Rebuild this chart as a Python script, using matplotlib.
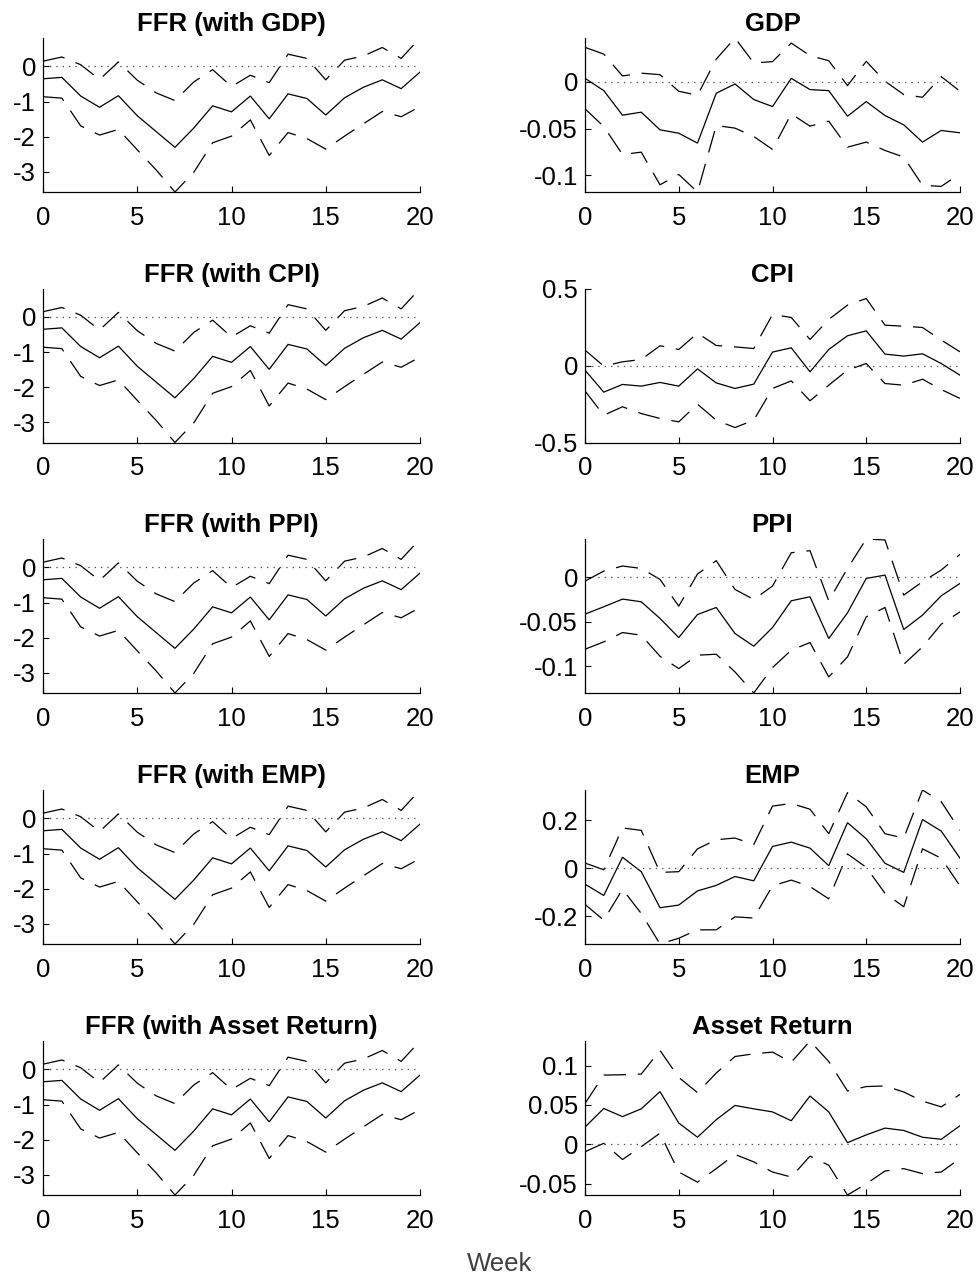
import numpy as np
import matplotlib
matplotlib.use("Agg")
import matplotlib.pyplot as plt
from matplotlib.ticker import FixedLocator, FuncFormatter

plt.rcParams['font.family'] = ['Liberation Sans', 'DejaVu Sans']
plt.rcParams['axes.unicode_minus'] = False
plt.rcParams['lines.scale_dashes'] = False

weeks = np.arange(21)

# Federal funds rate response (same identification in every bivariate system)
ffr_mid = [-0.35, -0.31, -0.84, -1.16, -0.83, -1.40, -1.85, -2.30, -1.75, -1.12, -1.29,
           -0.84, -1.49, -0.78, -0.91, -1.38, -0.89, -0.59, -0.38, -0.63, -0.16]
ffr_up = [0.15, 0.27, 0.05, -0.37, 0.13, -0.39, -0.75, -0.97, -0.44, -0.09, -0.57,
          -0.25, -0.46, 0.35, 0.23, -0.38, 0.18, 0.30, 0.54, 0.23, 0.81]
ffr_lo = [-0.86, -0.90, -1.69, -1.95, -1.79, -2.37, -2.94, -3.57, -3.01, -2.17, -1.98,
          -1.52, -2.53, -1.88, -2.05, -2.35, -1.98, -1.63, -1.28, -1.43, -1.14]

gdp_mid = [0.0035, -0.0096, -0.0358, -0.0326, -0.0514, -0.055, -0.0656, -0.0124, -0.0025, -0.0191, -0.0266,
           0.0035, -0.0085, -0.0096, -0.0369, -0.0213, -0.0362, -0.0461, -0.0645, -0.0521, -0.0546]
gdp_up = [0.0365, 0.0294, 0.006, 0.009, 0.0074, -0.0103, -0.0145, 0.024, 0.0465, 0.0199, 0.0213,
          0.0411, 0.0277, 0.0223, -0.0043, 0.0216, 0.0004, -0.0138, -0.0167, 0.0053, -0.0103]
gdp_lo = [-0.029, -0.0479, -0.0777, -0.0752, -0.110, -0.099, -0.1177, -0.0468, -0.0496, -0.0585, -0.0723,
          -0.0344, -0.0475, -0.0422, -0.0699, -0.0645, -0.0734, -0.0805, -0.1106, -0.1117, -0.0982]

cpi_mid = [-0.03, -0.173, -0.123, -0.134, -0.11, -0.134, -0.022, -0.113, -0.149, -0.121, 0.087,
           0.115, -0.041, 0.104, 0.193, 0.225, 0.074, 0.061, 0.076, 0.013, -0.063]
cpi_up = [0.10, -0.004, 0.024, 0.039, 0.128, 0.104, 0.21, 0.13, 0.121, 0.11, 0.331,
          0.312, 0.169, 0.299, 0.392, 0.435, 0.262, 0.255, 0.247, 0.165, 0.089]
cpi_lo = [-0.165, -0.323, -0.268, -0.312, -0.344, -0.366, -0.251, -0.355, -0.403, -0.355, -0.149,
          -0.10, -0.229, -0.128, -0.03, 0.013, -0.117, -0.128, -0.089, -0.156, -0.214]

ppi_mid = [-0.0416, -0.0333, -0.0247, -0.0277, -0.0464, -0.0678, -0.042, -0.0341, -0.0633, -0.0775, -0.0566,
           -0.0266, -0.0221, -0.0689, -0.0401, -0.0015, 0.0022, -0.0588, -0.0427, -0.021, -0.0071]
ppi_up = [-0.0045, 0.0067, 0.0124, 0.0097, -0.0026, -0.0326, 0.0034, 0.0184, -0.0139, -0.0251, -0.0101,
          0.0273, 0.0296, -0.0266, 0.0097, 0.0427, 0.0416, -0.0202, -0.0052, 0.0079, 0.0255]
ppi_lo = [-0.0809, -0.0727, -0.0622, -0.0652, -0.0888, -0.1026, -0.0876, -0.0865, -0.1064, -0.130, -0.1015,
          -0.082, -0.0734, -0.112, -0.0895, -0.0446, -0.0341, -0.0978, -0.0783, -0.0528, -0.039]

emp_mid = [-0.067, -0.114, 0.045, -0.015, -0.165, -0.154, -0.095, -0.072, -0.035, -0.053, 0.09,
           0.108, 0.083, 0.01, 0.189, 0.122, 0.02, -0.018, 0.202, 0.154, 0.041]
emp_up = [0.021, -0.007, 0.167, 0.157, -0.018, -0.015, 0.08, 0.118, 0.125, 0.098, 0.258,
          0.269, 0.245, 0.143, 0.314, 0.255, 0.143, 0.125, 0.325, 0.276, 0.157]
emp_lo = [-0.151, -0.217, -0.088, -0.189, -0.316, -0.292, -0.257, -0.257, -0.203, -0.208, -0.074,
          -0.05, -0.077, -0.128, 0.059, 0.003, -0.105, -0.161, 0.08, 0.041, -0.074]

ret_mid = [0.0219, 0.0455, 0.0352, 0.0451, 0.067, 0.027, 0.009, 0.0313, 0.0494, 0.0451, 0.0412,
           0.030, 0.0614, 0.0412, 0.0021, 0.012, 0.0206, 0.0176, 0.009, 0.0064, 0.0236]
ret_up = [0.0519, 0.088, 0.0884, 0.0893, 0.1193, 0.085, 0.0657, 0.0906, 0.1116, 0.115, 0.1172,
          0.1043, 0.1313, 0.1052, 0.0678, 0.0734, 0.0742, 0.0665, 0.0549, 0.0476, 0.0635]
ret_lo = [-0.0094, 0.0013, -0.0193, -0.003, 0.0142, -0.0352, -0.0481, -0.0309, -0.0129, -0.0223, -0.0352,
          -0.0416, -0.015, -0.0266, -0.0644, -0.0502, -0.0339, -0.0309, -0.0373, -0.0352, -0.018]

variables = ['GDP', 'CPI', 'PPI', 'EMP', 'Asset Return']
responses = {
    'GDP': (gdp_mid, gdp_up, gdp_lo),
    'CPI': (cpi_mid, cpi_up, cpi_lo),
    'PPI': (ppi_mid, ppi_up, ppi_lo),
    'EMP': (emp_mid, emp_up, emp_lo),
    'Asset Return': (ret_mid, ret_up, ret_lo),
}
yticks = {
    'FFR': [-3, -2, -1, 0],
    'GDP': [-0.1, -0.05, 0],
    'CPI': [-0.5, 0, 0.5],
    'PPI': [-0.1, -0.05, 0],
    'EMP': [-0.2, 0, 0.2],
    'Asset Return': [-0.05, 0, 0.05, 0.1],
}
ylims = {'CPI': (-0.5, 0.5)}

W, H = 976, 1279
fig = plt.figure(figsize=(W / 100, H / 100), dpi=100)

col_left = [43, 585]
col_width = [377, 375]
row_top = [38, 288.5, 539, 790, 1041]
row_h = 154

DASH = (0, (16, 8.5))
DOT = (0, (1.0, 3.6))


def draw_panel(ax, key, mid, up, lo, title):
    ax.plot(weeks, mid, color='black', lw=0.9, solid_joinstyle='miter')
    ax.plot(weeks, up, color='black', lw=0.9, linestyle=DASH)
    ax.plot(weeks, lo, color='black', lw=0.9, linestyle=DASH)
    ax.plot([weeks[0], weeks[-1]], [0, 0], color='#555555', lw=0.9, linestyle=DOT)
    ax.set_xlim(weeks[0], weeks[-1])
    if key in ylims:
        ax.set_ylim(*ylims[key])
    else:
        ax.set_ylim(min(lo), max(up))
    ax.xaxis.set_major_locator(FixedLocator([0, 5, 10, 15, 20]))
    ax.yaxis.set_major_locator(FixedLocator(yticks[key]))
    ax.yaxis.set_major_formatter(FuncFormatter(lambda v, p: '%g' % v))
    for s in ('top', 'right'):
        ax.spines[s].set_visible(False)
    for s in ('left', 'bottom'):
        ax.spines[s].set_linewidth(0.9)
    ax.tick_params(direction='in', length=4, width=0.8, labelsize=18.5, colors='black')
    ax.tick_params(axis='x', pad=10)
    ax.tick_params(axis='y', pad=5)
    ax.set_title(title, fontsize=18.5, fontweight='bold', pad=5)


for r, var in enumerate(variables):
    for c in range(2):
        left = col_left[c] / W
        bottom = 1 - (row_top[r] + row_h) / H
        ax = fig.add_axes([left, bottom, col_width[c] / W, row_h / H])
        if c == 0:
            draw_panel(ax, 'FFR', ffr_mid, ffr_up, ffr_lo, 'FFR (with %s)' % var)
        else:
            mid, up, lo = responses[var]
            draw_panel(ax, var, mid, up, lo, var)

fig.text(500 / W, 1 - 1264 / H, 'Week', ha='center', va='center', fontsize=18.5, color='#404040')

fig.savefig('out.png', dpi=100)
